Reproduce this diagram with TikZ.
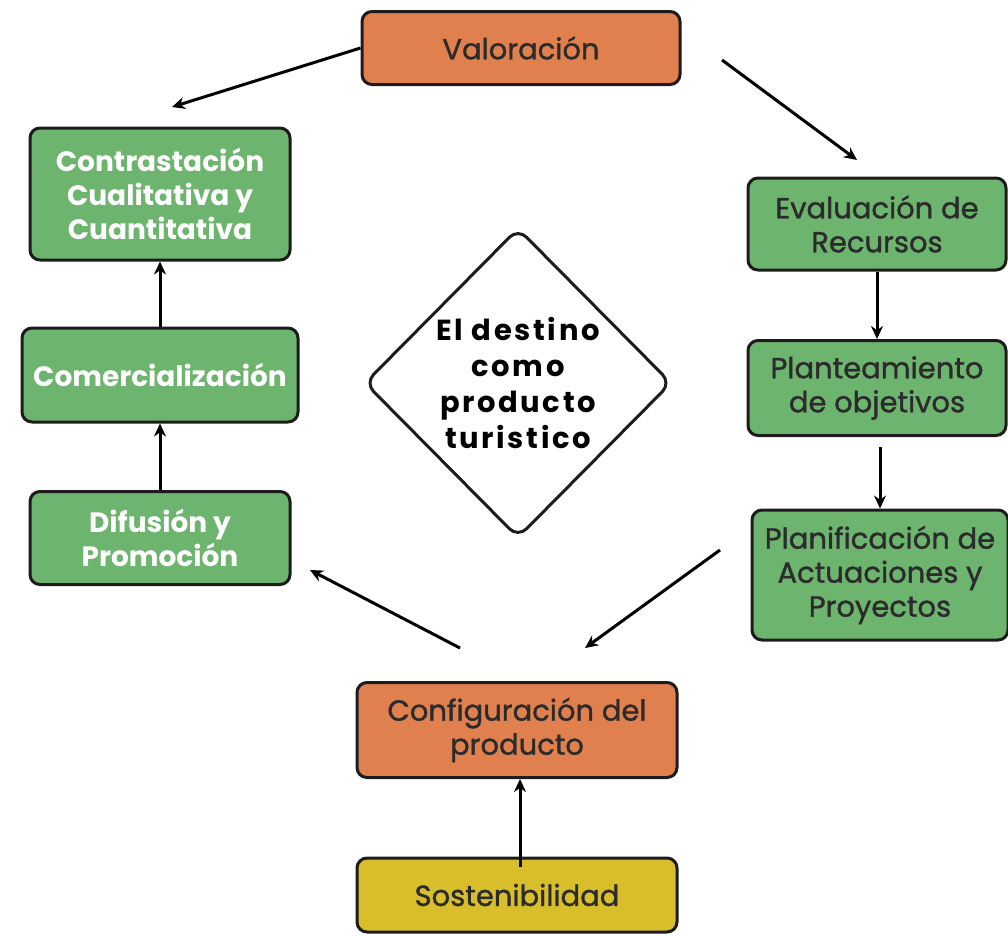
\documentclass[tikz,border=0pt]{standalone}
\usepackage{fontspec}
\setmainfont{Poppins}
\newfontfamily\medfont[FakeBold=1.2]{Poppins}
\newfontfamily\widefont[LetterSpace=9]{Poppins}
\usetikzlibrary{shapes.geometric,arrows.meta}
\definecolor{boxorange}{HTML}{E0804F}
\definecolor{boxgreen}{HTML}{6DB46E}
\definecolor{boxyellow}{HTML}{D8BE2B}
\definecolor{boxline}{HTML}{1C1C1C}
\definecolor{boxtext}{HTML}{2B2B2B}

\begin{document}
\begin{tikzpicture}[x=1pt, y=-1pt, >={Stealth[length=13pt,width=12pt]}, line width=3pt,
    stage/.style={draw=boxline, rounded corners=10pt, align=center, inner sep=0pt,
        font=\fontsize{29}{34}\medfont, text=boxtext},
    orangebox/.style={stage, fill=boxorange},
    greenbox/.style={stage, fill=boxgreen},
    whitebox/.style={greenbox, text=white, font=\fontsize{28}{34}\selectfont\bfseries},
    yellowbox/.style={stage, fill=boxyellow}]
            \useasboundingbox (0,0) rectangle (1008,935);

            \node[orangebox, minimum width=318pt, minimum height=73pt] (val) at (521,48) {Valoración};
            \node[whitebox, minimum width=260pt, minimum height=132pt] (contr) at (160,194) {Contrastación\\Cualitativa y\\Cuantitativa};
            \node[whitebox, minimum width=276pt, minimum height=94pt] (comer) at (160,375) {Comercialización};
            \node[whitebox, minimum width=260pt, minimum height=93pt] (difus) at (160,538) {Difusión y\\Promoción};
            \node[greenbox, minimum width=258pt, minimum height=92pt] (evalu) at (877,224) {Evaluación de\\Recursos};
            \node[greenbox, minimum width=258pt, minimum height=95pt] (plant) at (877,388) {Planteamiento\\de objetivos};
            \node[greenbox, minimum width=256pt, minimum height=130pt] (plani) at (880,575) {Planificación de\\Actuaciones y\\Proyectos};
            \node[orangebox, minimum width=320pt, minimum height=95pt] (config) at (517,730) {Configuración del\\producto};
            \node[yellowbox, minimum width=320pt, minimum height=74pt] (soste) at (517,895) {Sostenibilidad};

            \node[diamond, draw=boxline, rounded corners=12pt, minimum width=307pt, minimum height=310pt,
                inner sep=0pt, align=center, font=\fontsize{29}{36}\widefont\bfseries] (destino) at (518,383)
                {El destino\\como\\producto\\turistico};

            \coordinate (a1) at (172,107);
            \coordinate (a2s) at (722,60);
            \coordinate (a2) at (857,160);
            \coordinate (a3s) at (720,550);
            \coordinate (a3) at (585,648);
            \coordinate (a4s) at (460,648);
            \coordinate (a4) at (310,570);
            \coordinate (a5s) at ([xshift=3pt,yshift=-10pt]plant.south);

            \draw[->] (val.west) -- (a1);
            \draw[->] (a2s) -- (a2);
            \draw[->] (evalu) -- (plant);
            \draw[->] (a5s) -- (a5s |- plani.north);
            \draw[->] (a3s) -- (a3);
            \draw[->] (a4s) -- (a4);
            \draw[->] (difus) -- (comer);
            \draw[->] (comer) -- (contr);
            \draw[->] ([xshift=3pt,yshift=-10pt]soste.north) -- ([xshift=3pt]config.south);
        \end{tikzpicture}
\end{document}
